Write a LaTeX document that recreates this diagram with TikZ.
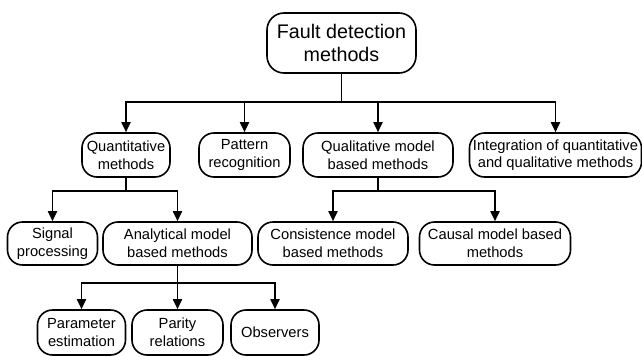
\documentclass[tikz,border=0pt]{standalone}
\usepackage{fontspec}
\setmainfont{Liberation Sans}
\usetikzlibrary{arrows.meta}
\tikzset{
  box/.style={draw, line width=1.6pt, rounded corners=15pt, align=center, inner sep=0pt,
    font=\fontsize{14.7}{17.6}\selectfont, anchor=center},
  topbox/.style={box, rounded corners=17pt, font=\fontsize{19.7}{23}\selectfont},
  conn/.style={line width=1.8pt},
  arr/.style={conn, -{Triangle[length=10pt,width=9pt]}},
}
\begin{document}
\begin{tikzpicture}[x=1pt,y=-1pt]
\useasboundingbox (0,0) rectangle (642,356);
% level 1
\node[topbox, minimum width=149pt, minimum height=60pt] (top) at (341.5,43) {Fault detection\\methods};
% level 2
\node[box, minimum width=88pt, minimum height=44pt] (quant) at (126,155) {Quantitative\\methods};
\node[box, minimum width=91pt, minimum height=44pt] (pattern) at (244.5,155) {Pattern\\recognition};
\node[box, minimum width=150pt, minimum height=44pt] (qual) at (378,155) {Qualitative model\\based methods};
\node[box, minimum width=172pt, minimum height=44pt] (integ) at (555.5,155) {Integration of quantitative\\and qualitative methods};
% level 3
\node[box, minimum width=90pt, minimum height=43pt] (signal) at (52.5,243.5) {Signal\\processing};
\node[box, minimum width=149pt, minimum height=43pt] (analyt) at (177.5,243.5) {Analytical model\\based methods};
\node[box, minimum width=150pt, minimum height=43pt] (consist) at (333,243.5) {Consistence model\\based methods};
\node[box, minimum width=151pt, minimum height=43pt] (causal) at (495,243.5) {Causal model based\\methods};
% level 4
\node[box, minimum width=88pt, minimum height=45pt] (param) at (81.5,332.5) {Parameter\\estimation};
\node[box, minimum width=91pt, minimum height=45pt] (parity) at (177.5,332.5) {Parity\\relations};
\node[box, minimum width=88pt, minimum height=45pt] (obs) at (275,332.5) {Observers};
% bus coordinates
\coordinate (b1) at (341.5,102);
\coordinate (b2) at (126,191);
\coordinate (b3) at (378,191);
\coordinate (b4) at (177.5,283);
% connectors level 1 -> 2
\draw[conn] (top.south) -- (b1);
\draw[arr] (b1) -| (quant.north);
\draw[arr] (b1) -| (pattern.north);
\draw[arr] (b1) -| (qual.north);
\draw[arr] (b1) -| (integ.north);
% quant -> level 3
\draw[conn] (quant.south) -- (b2);
\draw[arr] (b2) -| (signal.north);
\draw[arr] (b2) -| (analyt.north);
% qual -> level 3
\draw[conn] (qual.south) -- (b3);
\draw[arr] (b3) -| (consist.north);
\draw[arr] (b3) -| (causal.north);
% analytical -> level 4
\draw[conn] (analyt.south) -- (b4);
\draw[arr] (b4) -| (param.north);
\draw[arr] (b4) -- (parity.north);
\draw[arr] (b4) -| (obs.north);
\end{tikzpicture}
\end{document}
